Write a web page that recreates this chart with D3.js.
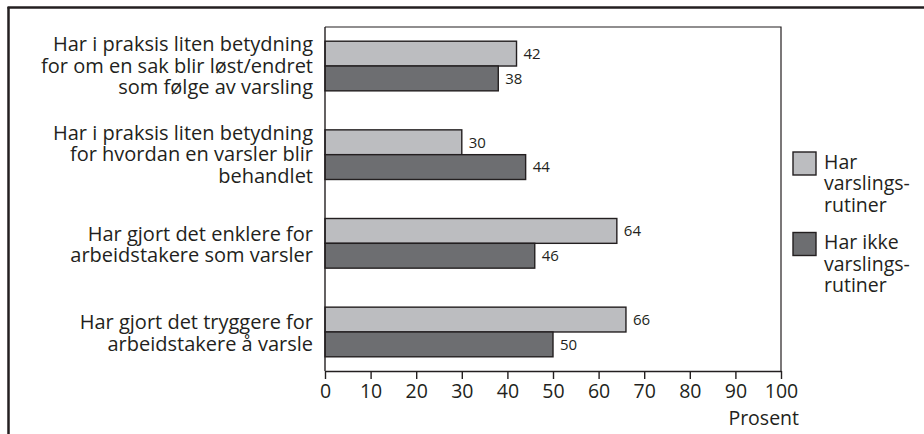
<!DOCTYPE html>
<html>
<head>
<meta charset="utf-8">
<script src="https://cdn.jsdelivr.net/npm/d3@7"></script>
<style>
  html, body { margin: 0; padding: 0; background: #fff; }
  svg { display: block; font-family: "Open Sans", "Noto Sans", sans-serif; }
</style>
</head>
<body>
<svg id="chart" width="924" height="434"></svg>
<script>
// Categories (each label split into its printed lines)
const categories = [
  ["Har i praksis liten betydning", "for om en sak blir løst/endret", "som følge av varsling"],
  ["Har i praksis liten betydning", "for hvordan en varsler blir", "behandlet"],
  ["Har gjort det enklere for", "arbeidstakere som varsler"],
  ["Har gjort det tryggere for", "arbeidstakere å varsle"]
];
const seriesNames = [
  ["Har", "varslings-", "rutiner"],
  ["Har ikke", "varslings-", "rutiner"]
];
const withRoutines = [42, 30, 64, 66];
const withoutRoutines = [38, 44, 46, 50];
const xTicks = [0, 10, 20, 30, 40, 50, 60, 70, 80, 90, 100];
const axisTitle = "Prosent";

const fills = ["#bcbdc0", "#6d6e71"];
const ink = "#231f20";

const svg = d3.select("#chart");

// Outer frame: top and left rules
svg.append("line").attr("x1", 7.5).attr("x2", 924).attr("y1", 7.5).attr("y2", 7.5)
  .attr("stroke", ink).attr("stroke-width", 2.5);
svg.append("line").attr("x1", 8.5).attr("x2", 8.5).attr("y1", 7).attr("y2", 434)
  .attr("stroke", ink).attr("stroke-width", 2.5);

const plot = { left: 325, right: 781, top: 27, bottom: 371 };

const x = d3.scaleLinear().domain([0, 100]).range([plot.left, plot.right]);
const y = d3.scaleBand().domain(d3.range(categories.length))
  .range([21.7, 376.3]).paddingInner(0.44).paddingOuter(0.22);
const ySeries = d3.scaleBand().domain([0, 1]).range([0, y.bandwidth()]);

// Plot box (top and right edges)
svg.append("path")
  .attr("d", `M${plot.left},${plot.top}H${plot.right}V${plot.bottom}`)
  .attr("fill", "none").attr("stroke", ink).attr("stroke-width", 1.2);

// Bars with value labels
const series = [withRoutines, withoutRoutines];
series.forEach((vals, s) => {
  const g = svg.append("g");
  g.selectAll("rect").data(vals).join("rect")
    .attr("x", x(0))
    .attr("y", (d, i) => y(i) + ySeries(s))
    .attr("width", d => x(d) - x(0))
    .attr("height", ySeries.bandwidth())
    .attr("fill", fills[s])
    .attr("stroke", ink).attr("stroke-width", 1.4);
  g.selectAll("text").data(vals).join("text")
    .attr("x", d => x(d) + 7)
    .attr("y", (d, i) => y(i) + ySeries(s) + ySeries.bandwidth() / 2)
    .attr("dy", "0.36em")
    .attr("font-size", 15)
    .attr("fill", ink)
    .text(d => d);
});

// X axis
const xAxis = d3.axisBottom(x).tickValues(xTicks).tickSize(8).tickSizeOuter(0).tickPadding(5);
const ax = svg.append("g").attr("transform", `translate(0,${plot.bottom})`).call(xAxis);
ax.select(".domain").attr("stroke", ink).attr("stroke-width", 1.4);
ax.selectAll(".tick line").attr("stroke", ink).attr("stroke-width", 1.4);
ax.selectAll(".tick text").attr("font-size", 19.5).attr("fill", ink)
  .attr("font-family", "Open Sans, Noto Sans, sans-serif");

// Y axis line
svg.append("line").attr("x1", plot.left).attr("x2", plot.left)
  .attr("y1", plot.top).attr("y2", plot.bottom)
  .attr("stroke", ink).attr("stroke-width", 1.4);

svg.append("text").attr("x", 799).attr("y", 425)
  .attr("text-anchor", "end").attr("font-size", 19.5).attr("fill", ink)
  .text(axisTitle);

// Category labels
const lineH = 21.5;
categories.forEach((lines, i) => {
  const cy = y(i) + y.bandwidth() / 2;
  const first = cy + 6.5 - (lines.length - 1) * lineH / 2 + (lines.length === 2 ? 1.5 : 0);
  lines.forEach((ln, k) => {
    svg.append("text").attr("text-anchor", "end")
      .attr("font-size", 20).attr("fill", ink)
      .attr("x", 313).attr("y", first + k * lineH).text(ln);
  });
});

// Legend
const legend = svg.append("g");
seriesNames.forEach((lines, s) => {
  const top = 152 + s * 80.5;
  legend.append("rect").attr("x", 793).attr("y", top).attr("width", 23).attr("height", 23)
    .attr("fill", fills[s]).attr("stroke", ink).attr("stroke-width", 1.4);
  lines.forEach((ln, k) => {
    legend.append("text").attr("font-size", 19.5).attr("fill", ink)
      .attr("x", 824).attr("y", top + 16.5 + k * 21.5).text(ln);
  });
});
</script>
</body>
</html>
